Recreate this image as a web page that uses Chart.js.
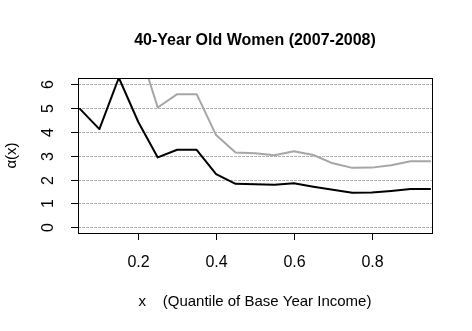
<!DOCTYPE html>
<html>
<head>
<meta charset="utf-8">
<script src="https://cdn.jsdelivr.net/npm/chart.js@4"></script>
<style>
  body { margin: 0; background: #fff; }
  canvas { display: block; }
</style>
</head>
<body>
<canvas id="myChart" width="472" height="331"></canvas>
<script>
// quantile grid and the two alpha(x) curves
const quantiles = [0.05, 0.10, 0.15, 0.20, 0.25, 0.30, 0.35, 0.40, 0.45, 0.50,
                   0.55, 0.60, 0.65, 0.70, 0.75, 0.80, 0.85, 0.90, 0.95];
const alphaBlack = [4.97, 4.12, 6.28, 4.42, 2.93, 3.25, 3.25, 2.23, 1.82, 1.80,
                    1.78, 1.84, 1.70, 1.57, 1.44, 1.45, 1.52, 1.60, 1.60];
const alphaGray = [null, null, null, 7.6, 5.03, 5.59, 5.59, 3.87, 3.14, 3.10,
                   3.02, 3.19, 3.03, 2.68, 2.49, 2.50, 2.60, 2.77, 2.77];
const xTicks = [0.2, 0.4, 0.6, 0.8];
const yTicks = [0, 1, 2, 3, 4, 5, 6];

const FONT = "'Liberation Sans', Arial, sans-serif";

function toPoints(values) {
  return quantiles.map((q, i) => ({ x: q, y: values[i] }));
}

// R-style frame, ticks, labels and dotted grid
const rAxes = {
  id: "rAxes",
  beforeDatasetsDraw(chart) {
    const { ctx, chartArea: a, scales } = chart;
    ctx.save();
    ctx.strokeStyle = "#b0b0b0";
    ctx.lineWidth = 1;
    ctx.setLineDash([3, 1]);
    yTicks.forEach((v) => {
      const y = Math.round(scales.y.getPixelForValue(v)) + 0.5;
      ctx.beginPath();
      ctx.moveTo(a.left, y);
      ctx.lineTo(a.right, y);
      ctx.stroke();
    });
    ctx.restore();
  },
  afterDraw(chart) {
    const { ctx, chartArea: a, scales } = chart;
    ctx.save();
    ctx.strokeStyle = "#000";
    ctx.lineWidth = 1;
    ctx.strokeRect(Math.round(a.left) + 0.5, Math.round(a.top) + 0.5,
      Math.round(a.right - a.left), Math.round(a.bottom - a.top));

    ctx.fillStyle = "#000";
    ctx.font = "16px " + FONT;
    ctx.textAlign = "center";
    ctx.textBaseline = "middle";
    xTicks.forEach((v) => {
      const x = Math.round(scales.x.getPixelForValue(v)) + 0.5;
      ctx.beginPath();
      ctx.moveTo(x, a.bottom);
      ctx.lineTo(x, a.bottom + 7);
      ctx.stroke();
      ctx.fillText(v.toFixed(1), x, 263);
    });
    yTicks.forEach((v) => {
      const y = Math.round(scales.y.getPixelForValue(v)) + 0.5;
      ctx.beginPath();
      ctx.moveTo(a.left - 7, y);
      ctx.lineTo(a.left, y);
      ctx.stroke();
      ctx.save();
      ctx.translate(49, y);
      ctx.rotate(-Math.PI / 2);
      ctx.fillText(String(v), 0, 0);
      ctx.restore();
    });

    ctx.font = "15px " + FONT;
    ctx.fillText("x    (Quantile of Base Year Income)", (a.left + a.right) / 2, 302);
    ctx.save();
    ctx.translate(12, (a.top + a.bottom) / 2);
    ctx.rotate(-Math.PI / 2);
    ctx.fillText("\u03B1(x)", 0, 0);
    ctx.restore();

    ctx.font = "bold 16px " + FONT;
    ctx.fillText("40-Year Old Women (2007-2008)", (a.left + a.right) / 2, 41);
    ctx.restore();
  }
};

const ctx = document.getElementById("myChart").getContext("2d");
const myChart = new Chart(ctx, {
  type: "line",
  data: {
    datasets: [
      {
        label: "gray",
        data: toPoints(alphaGray),
        borderColor: "#a6a6a6",
        borderWidth: 2,
        pointRadius: 0,
        tension: 0,
        spanGaps: false,
        borderJoinStyle: "round",
        borderCapStyle: "round",
      },
      {
        label: "black",
        data: toPoints(alphaBlack),
        borderColor: "#000",
        borderWidth: 2,
        pointRadius: 0,
        tension: 0,
        borderJoinStyle: "round",
        borderCapStyle: "round",
      },
    ],
  },
  options: {
    responsive: false,
    animation: false,
    devicePixelRatio: 1,
    layout: { padding: { left: 78, right: 40, top: 78, bottom: 98 } },
    plugins: { legend: { display: false }, tooltip: { enabled: false } },
    scales: {
      x: { type: "linear", min: 0.045, max: 0.955, display: false },
      y: { type: "linear", min: -0.25, max: 6.27, display: false },
    },
  },
  plugins: [rAxes],
});
</script>
</body>
</html>
